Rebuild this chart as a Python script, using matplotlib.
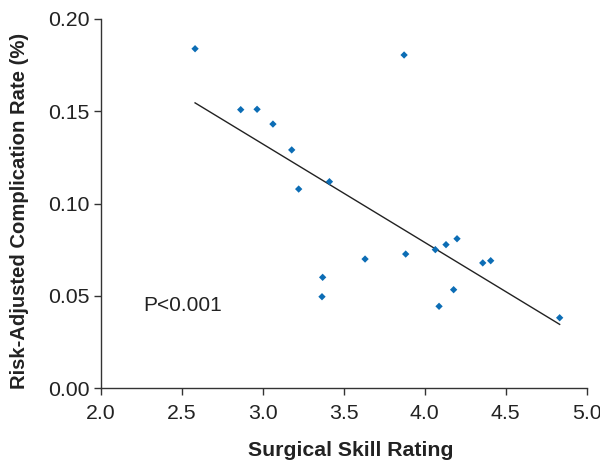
import matplotlib
matplotlib.use("Agg")
import matplotlib.pyplot as plt
import numpy as np

plt.rcParams['font.family'] = ['Liberation Sans', 'DejaVu Sans']

skill = [2.581, 2.863, 2.964, 3.062, 3.178, 3.221, 3.411, 3.872, 3.369, 3.365,
         3.631, 3.882, 4.065, 4.131, 4.199, 4.088, 4.178, 4.358, 4.407, 4.833]
complication = [0.1839, 0.1509, 0.1511, 0.1431, 0.1291, 0.1079, 0.1119, 0.1805, 0.0601, 0.0496,
                0.0700, 0.0727, 0.0751, 0.0778, 0.0810, 0.0444, 0.0534, 0.0679, 0.0691, 0.0382]
xticks = [2.0, 2.5, 3.0, 3.5, 4.0, 4.5, 5.0]
yticks = [0.00, 0.05, 0.10, 0.15, 0.20]

fig = plt.figure(figsize=(6.0, 4.61), dpi=100)
ax = fig.add_axes([101/600, 1 - 388.3/461, 485.7/600, 369.3/461])

x = np.array(skill)
y = np.array(complication)
slope, intercept = np.polyfit(x, y, 1)
xl = np.array([x.min(), x.max()])
ax.plot(xl, slope * xl + intercept, color='#222222', lw=1.0, zorder=2)
ax.scatter(x, y, marker='D', s=14, color='#0c6db5', edgecolors='none', zorder=3)

ax.set_xlim(2.0, 5.0)
ax.set_ylim(0.0, 0.20)
ax.set_xticks(xticks)
ax.set_xticklabels([f"{v:.1f}" for v in xticks])
ax.set_yticks(yticks)
ax.set_yticklabels([f"{v:.2f}" for v in yticks])

for s in ['top', 'right']:
    ax.spines[s].set_visible(False)
for s in ['left', 'bottom']:
    ax.spines[s].set_color('#333333')
    ax.spines[s].set_linewidth(1.0)
ax.tick_params(axis='both', direction='out', length=5, width=1.0, color='#333333',
               labelsize=15.3, labelcolor='#222222')
ax.tick_params(axis='x', pad=6)
ax.tick_params(axis='y', pad=3.5)

ax.set_xlabel('Surgical Skill Rating', fontsize=15.3, fontweight='bold', color='#222222')
ax.set_ylabel('Risk-Adjusted Complication Rate (%)', fontsize=14.6, fontweight='bold', color='#222222')
ax.xaxis.set_label_coords((350.5 - 101) / 485.7, (388.3 - 450) / 369.3, transform=ax.transAxes)
ax.xaxis.label.set_va('center')
ax.yaxis.set_label_coords((20 - 101) / 485.7, (388.3 - 211) / 369.3, transform=ax.transAxes)
ax.yaxis.label.set_va('center')

ax.text(2.26, 0.0446, 'P<0.001', fontsize=15, color='#222222', ha='left', va='center')

fig.savefig('out.png', dpi=100)
